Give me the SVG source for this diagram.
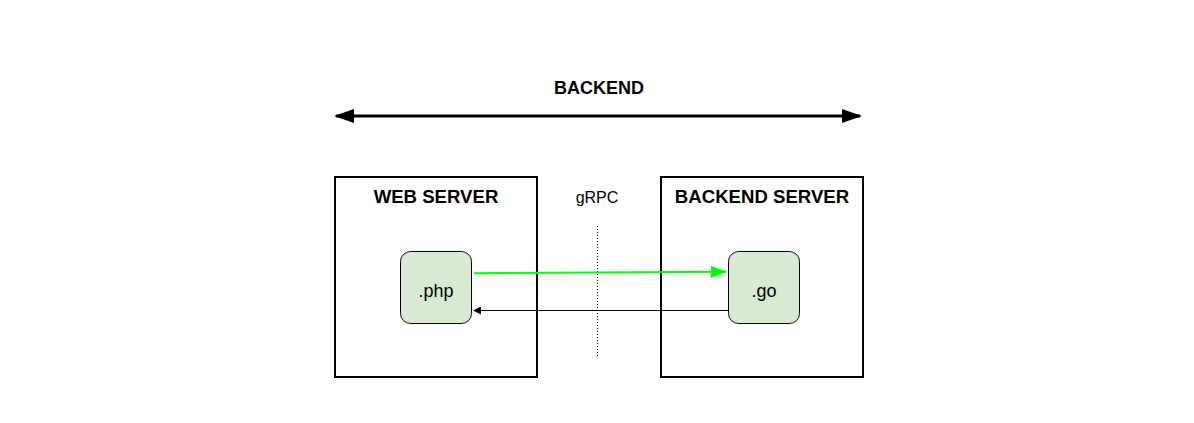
<svg xmlns="http://www.w3.org/2000/svg" width="1194" height="423" viewBox="0 0 1194 423">
<defs>
<style>
.box{fill:#fff;stroke:#000;stroke-width:2}
.node{fill:#d9ead3;stroke:#000;stroke-width:1}
.title{font-family:"Liberation Sans",Arial,sans-serif;font-weight:bold;font-size:18.6px;fill:#000;text-anchor:middle}
.lbl{font-family:"Liberation Sans",Arial,sans-serif;font-size:16px;fill:#000;text-anchor:middle}
.nlbl{font-family:"Liberation Sans",Arial,sans-serif;font-size:18px;fill:#000;text-anchor:middle}
</style>
<marker id="bigL" viewBox="0 0 20 14" refX="2" refY="7" markerUnits="userSpaceOnUse" markerWidth="20" markerHeight="14" orient="auto"><path d="M20,0 L0,7 L20,14 Z" fill="#000"/></marker>
<marker id="bigR" viewBox="0 0 20 14" refX="18" refY="7" markerUnits="userSpaceOnUse" markerWidth="20" markerHeight="14" orient="auto"><path d="M0,0 L20,7 L0,14 Z" fill="#000"/></marker>
<marker id="grn" viewBox="0 0 16 12" refX="15" refY="6" markerUnits="userSpaceOnUse" markerWidth="16" markerHeight="12" orient="auto"><path d="M0,0 L16,6 L0,12 Z" fill="#00ff00"/></marker>
<marker id="blk" viewBox="0 0 8 8" refX="7" refY="4" markerUnits="userSpaceOnUse" markerWidth="8" markerHeight="8" orient="auto"><path d="M0,0 L8,4 L0,8 Z" fill="#000"/></marker>
</defs>
<rect width="1194" height="423" fill="#fff"/>
<g id="backend-span">
<text class="title" x="599" y="94" style="font-size:18px">BACKEND</text>
</g>
<g id="web-server">
<rect class="box" x="335" y="177" width="202" height="200"/>
<text class="title" x="436" y="203">WEB SERVER</text>
</g>
<g id="backend-server">
<rect class="box" x="661" y="177" width="202" height="200"/>
<text class="title" x="762" y="203">BACKEND SERVER</text>
</g>
<g id="grpc">
<text class="lbl" x="597" y="203">gRPC</text>
<line x1="597.5" y1="226" x2="597.5" y2="356" stroke="#000" stroke-width="1" stroke-dasharray="1,2"/>
</g>
<g id="php">
<rect class="node" x="400.5" y="251.5" width="71" height="72" rx="10"/>
<text class="nlbl" x="436" y="297">.php</text>
</g>
<g id="go">
<rect class="node" x="728.5" y="251.5" width="71" height="72" rx="10"/>
<text class="nlbl" x="764" y="297">.go</text>
</g>
<g id="connectors">
<line x1="336" y1="116" x2="860" y2="116" stroke="#000" stroke-width="3" marker-start="url(#bigL)" marker-end="url(#bigR)"/>
<line x1="474" y1="273.3" x2="726" y2="271.8" stroke="#00ff00" stroke-width="2" marker-end="url(#grn)"/>
<line x1="728" y1="310.5" x2="474" y2="310.5" stroke="#000" stroke-width="1" marker-end="url(#blk)"/>
</g>
</svg>
